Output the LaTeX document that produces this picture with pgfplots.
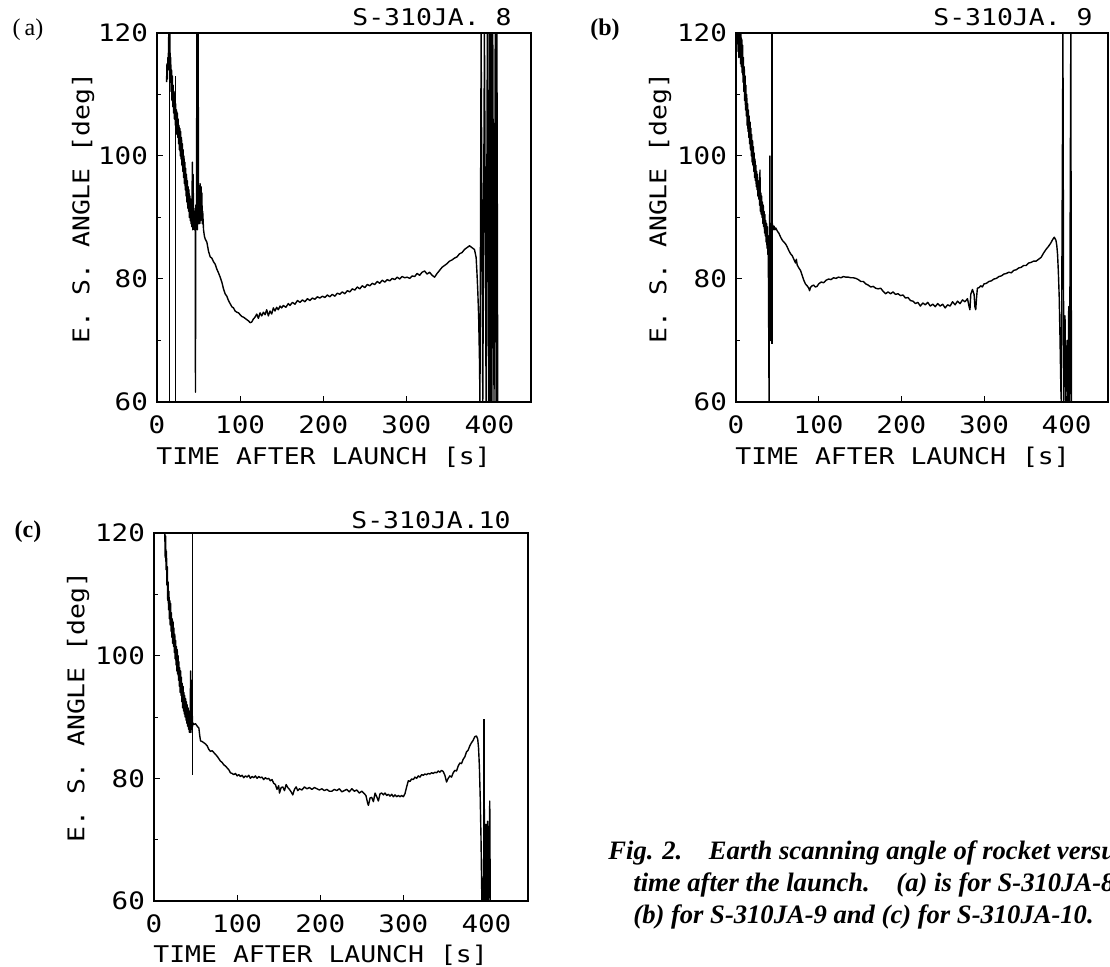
\documentclass[border=0pt]{standalone}
\usepackage{pgfplots}
\pgfplotsset{compat=1.18}
\usepackage{fontspec}
\setmainfont{Liberation Serif}
\newfontfamily\plotfont[FakeStretch=1.15]{DejaVu Sans Mono}

\pgfplotsset{
  rocket/.style={
    scale only axis,
    width=187pt, height=184.5pt,
    xmin=0, xmax=450, ymin=60, ymax=120,
    xtick={0,100,200,300,400},
    ytick={60,80,100,120},
    minor ytick={70,90,110},
    tick align=inside, tick pos=left,
    major tick length=3pt, minor tick length=2pt,
    tick style={black, line width=0.5pt},
    axis line style={line width=0.6pt},
    ticklabel style={font=\plotfont\fontsize{12}{12}\selectfont},
    /pgf/number format/assume math mode=true,
    yticklabel style={xshift=-1pt},
    xticklabel style={yshift=-3.5pt},
  },
  trace/.style={black, line width=0.7pt, line join=round, mark=none},
}
\tikzset{lbl/.style={font=\plotfont\fontsize{11.5}{11.5}\selectfont, inner sep=0pt}}

\begin{document}
\begin{tikzpicture}
\useasboundingbox (0,0) rectangle (555pt,-483.5pt);

% ---------------- (a) S-310JA-8
\begin{axis}[rocket, at={(78.5pt,-201pt)}, anchor=south west]
\addplot[trace] coordinates {(14.7,60) (14.7,120)};
\addplot[trace] coordinates {(22.6,113) (22.6,60)};
\addplot[trace] coordinates {
(11.5,112)(12,115)(12.5,112.5)(13,116)(13.5,114)(14,119)(14.5,121)(15,117)(15.5,120)(16,112)
(16.5,116)(17,110.5)(17.5,114)(18,109)(18.5,113)(19,108)(19.5,111.5)(20,107)(20.5,110.5)
(21,106)(21.5,109.5)(22,105)(22.5,108.5)(23,104)(23.5,107.5)(24,103.5)(24.5,107)(25,103)
(25.5,106)(26,102)(26.5,105)(27,101)(27.5,104.5)(28,100)(28.5,104)(29,99.5)(29.5,103)
(30,98.5)(30.5,102)(31,97.5)(31.5,101)(32,96.5)(32.5,100)(33,95.5)(33.5,99)(34,94.5)
(34.5,98)(35,93.5)(35.5,97)(36,92.5)(36.5,96)(37,91.5)(37.5,95)(38,91)(38.5,94.5)(39,90)
(39.5,93.5)(40,89.5)(40.5,93)(41,89)(41.5,92.5)(42,88.5)(42.5,99)(43,88)(43.5,97)(44,88.5)
(44.5,91.5)(45,88)(45.5,91)(46,89)(46.3,61.6)(46.6,92)(47.5,90)(48,120)(48.5,88)(49.5,120)
(50,89)(51,93)(51.5,89)(52,95.5)(52.5,89.5)(53,95)(53.5,90)(54,94)(54.5,89)(55,91)(56,88)
(57,87)(58,86.5)(60,86)(62,84.5)(64,83.6)(66,83.4)(68,82.8)(70,82.4)(72,81.6)(74,81)(76,80.3)
(78,79.5)(80,78.4)(82,77.6)(84,77.2)(86,76.5)(88,76)(90,75.5)(92,75.3)(94,74.8)(96,74.6)
(98,74.5)(100,74.2)(102,73.9)(104,73.8)(106,73.6)(108,73.4)(110,73.2)(112,72.9)(114,73.0)
(116,73.5)(118,73.8)(120,74.3)(122,73.6)(124,74.5)(126,74.0)(128,74.6)(130,74.2)(132,75.0)
(134,74.0)(136,74.8)(138,74.3)(140,75.3)(142,74.8)(144,75.4)(146,75.0)(148,75.6)(150,75.3)
(152,75.7)(155,75.4)(158,76.0)(160,75.7)(163,76.2)(166,75.9)(169,76.5)(172,76.2)(175,76.6)
(178,76.3)(181,76.8)(184,76.5)(187,76.9)(190,76.7)(193,77.1)(196,76.9)(199,77.2)(202,77.0)
(205,77.4)(208,77.1)(211,77.5)(214,77.2)(217,77.7)(220,77.5)(223,77.9)(226,77.6)(229,78.1)
(232,77.9)(235,78.4)(238,78.2)(241,78.7)(244,78.4)(247,78.9)(250,78.6)(253,79.1)(256,78.9)
(259,79.3)(262,79.1)(265,79.6)(268,79.3)(271,79.8)(274,79.5)(277,79.9)(280,79.7)(283,80.1)
(286,79.9)(289,80.3)(292,80.0)(295,80.4)(298,80.2)(301,80.3)(304,80.1)(307,80.5)(310,80.4)
(313,80.9)(316,80.6)(319,81.1)(322,81.3)(325,80.8)(328,81.1)(331,80.6)(334,80.3)(337,80.9)
(340,81.4)(343,81.9)(346,82.2)(349,82.5)(352,82.9)(355,83.1)(358,83.4)(361,83.6)(364,84.1)
(367,84.3)(370,84.8)(373,85.1)(376,85.4)(378,85.2)(380,85.0)(382,84.8)(384,83.5)(385,81)
(386,78)(387,74)(388,67)(388.6,60)(390,120)(392,60)(394,120)(396,60)(397.5,120)(399,60)
(400,120)(401,60)(402,120)(403,60)(404,120)(405.5,60)(407,120)(408,60)(409,120)(410,60)
};
\end{axis}
\node at (14pt,-15pt) {\fontsize{12}{12}\selectfont (\,a)};
\node[lbl, anchor=east] at (256pt,-8.5pt) {S-310JA. 8};
\node[lbl, rotate=90] at (41.5pt,-104pt) {E. S. ANGLE [deg]};
\node[lbl, anchor=west] at (78pt,-228.5pt) {TIME AFTER LAUNCH [s]};

% ---------------- (b) S-310JA-9
\begin{axis}[rocket, width=186pt, at={(368pt,-201pt)}, anchor=south west]
\addplot[trace] coordinates {(43.5,120) (43.5,69.5)};
\addplot[trace] coordinates {
(2,121)(2.5,117)(3,120.5)(3.5,116)(4,121)(4.5,116.5)(5,120)(5.5,115)(6,120.5)(6.5,114.5)
(7,119)(7.5,113.5)(8,118)(8.5,112)(9,116)(9.5,110.5)(10,114.5)(10.5,109)(11,113)(11.5,107.5)
(12,111.5)(12.5,106.5)(13,110)(13.5,105)(14,108.5)(14.5,104)(15,107.5)(15.5,103)(16,106.5)
(16.5,102)(17,105.5)(17.5,101)(18,104.5)(18.5,100)(19,103.5)(19.5,99)(20,102.5)(20.5,98.5)
(21,101.5)(21.5,97.5)(22,100.5)(22.5,96.5)(23,99.5)(23.5,96)(24,98.5)(24.5,95)(25,97.5)
(25.5,94.5)(26,97)(26.5,93.5)(27,96)(27.5,93)(28,95.5)(28.5,92)(29,97.7)(29.5,91)(30,94)
(30.5,90.5)(31,93.5)(31.5,90)(32,92.5)(32.5,89)(33,92)(33.5,88.5)(34,91)(34.5,87.5)(35,90.5)
(35.5,87)(36,89.5)(36.5,86)(37,89)(37.5,85)(38,88.5)(38.5,84)(39,87)(40,60)(41,100)(41.5,70)
(42,89)(44,89)(45,88)(46,88.6)(47,88)
(48,88.3)(50,87.8)(52,87.4)(54,86.8)(56,86.3)(58,86.0)(60,85.7)(62,85.2)(64,84.6)(66,84.1)
(68,83.8)(70,83.2)(72,82.6)(73,83.2)(74,82.3)(76,81.8)(78,81.4)(80,80.6)(82,79.8)(84,79.2)
(86,78.9)(88,78.5)(89,78.1)(90,78.6)(92,78.9)(94,79.0)(96,78.7)(98,78.8)(100,79.2)(103,79.5)
(106,79.4)(109,79.8)(112,80.0)(115,79.9)(118,80.2)(121,80.1)(124,80.3)(127,80.2)(130,80.4)
(133,80.3)(136,80.3)(139,80.2)(142,80.2)(145,80.1)(148,79.9)(151,79.6)(154,79.6)(157,79.2)
(160,79.0)(163,78.7)(166,78.8)(169,78.5)(172,78.4)(175,78.5)(178,78.0)(181,77.6)(184,77.9)
(187,77.6)(190,77.9)(193,77.5)(196,77.6)(199,77.3)(202,77.4)(205,76.9)(208,77.0)(211,76.5)
(214,76.4)(217,76.0)(220,76.2)(223,75.6)(226,76.1)(229,75.8)(232,76.2)(235,75.6)(238,75.9)
(241,75.5)(244,76.0)(247,75.6)(250,75.9)(253,75.3)(256,75.8)(259,75.6)(262,76.3)(265,75.8)
(268,76.4)(271,76.0)(274,76.6)(277,76.3)(280,76.8)(282,75.5)(283,75.0)(284,77.5)(286,78.3)
(288,77.5)(289,75.5)(290,75.0)(291,77.0)(292,78.5)(294,78.6)(296,78.9)(298,78.7)(300,79.2)
(303,79.3)(306,79.6)(309,79.7)(312,80.0)(315,80.1)(318,80.4)(321,80.5)(324,80.8)(327,80.9)
(330,81.1)(333,81.0)(336,81.4)(339,81.5)(342,81.8)(345,81.9)(348,82.2)(351,82.2)(354,82.6)
(357,82.7)(360,82.9)(363,82.9)(366,83.2)(369,83.5)(372,84.2)(375,84.8)(378,85.3)(381,85.9)
(383,86.4)(385,86.8)(387,86.3)(388,85.5)(389,84)(390,81)(391,77)(392,70)(393,62)(393.5,60)
(395.5,120)(396.5,60)(398,74)(399,60)(400.5,70)(401.5,60)(402.5,75.5)(403.5,60)(405,120)
(405.8,60)
};
\end{axis}
\node at (302.5pt,-15pt) {\fontsize{12}{12}\selectfont\bfseries (b)};
\node[lbl, anchor=east] at (546.5pt,-8.5pt) {S-310JA. 9};
\node[lbl, rotate=90] at (330pt,-104pt) {E. S. ANGLE [deg]};
\node[lbl, anchor=west] at (367.5pt,-228.5pt) {TIME AFTER LAUNCH [s]};

% ---------------- (c) S-310JA-10
\begin{axis}[rocket, height=184pt, at={(77pt,-450.5pt)}, anchor=south west]
\addplot[trace] coordinates {(46,120) (46,80.5)};
\addplot[trace] coordinates {(397,60) (397,89.6)};
\addplot[trace] coordinates {
(13,120)(13.5,116)(14,119.5)(14.5,114)(15,117)(15.5,111.5)(16,114.5)(16.5,109)(17,112)
(17.5,107.5)(18,110.5)(18.5,106)(19,109)(19.5,105)(20,108.5)(20.5,104)(21,107)(21.5,103)
(22,106)(22.5,102)(23,105.5)(23.5,101.5)(24,104.5)(24.5,100.5)(25,103.5)(25.5,99.5)(26,102.5)
(26.5,98.5)(27,101.5)(27.5,97.5)(28,101)(28.5,97)(29,100)(29.5,96)(30,99)(30.5,95)(31,98)
(31.5,94)(32,97.5)(32.5,93.5)(33,96.5)(33.5,92.5)(34,95.5)(34.5,91.5)(35,95)(35.5,91)(36,94)
(36.5,90.5)(37,93.5)(37.5,90)(38,93)(38.5,89.5)(39,92.5)(39.5,89)(40,92)(40.5,88.5)(41,91.5)
(41.5,88)(42,91)(42.5,87.5)(43,90.5)(43.5,87.5)(44,97.5)(44.5,87.5)(45,96)(45.5,88)(46,90.5)
(46.5,88.5)(47,89)(48,88.8)(50,88.9)(52,88.5)(54,88.2)(55,87)(56,86.1)(58,86.0)(60,85.8)
(62,85.6)(64,85.3)(66,84.7)(68,84.4)(70,84.5)(72,84.2)(74,83.9)(76,83.6)(78,83.2)(80,82.8)
(82,82.6)(84,82.2)(86,82.0)(88,81.7)(90,81.4)(92,80.9)(94,80.8)(96,80.6)(98,80.8)(100,80.4)
(102,80.6)(104,80.3)(106,80.5)(108,80.1)(110,80.4)(112,80.2)(114,80.5)(116,80.0)(118,80.3)
(120,80.1)(122,80.4)(124,80.0)(126,80.3)(128,80.1)(130,80.2)(132,79.8)(134,80.1)(136,79.9)
(138,80.0)(140,79.6)(142,79.8)(144,79.2)(146,79.0)(148,78.2)(150,78.8)(151,77.6)(153,78.5)
(155,78.6)(157,78.0)(159,79.0)(161,78.5)(163,78.2)(165,77.8)(167,77.3)(169,78.2)(171,78.6)
(173,78.0)(175,78.3)(178,78.1)(181,78.6)(184,78.3)(187,78.5)(190,78.2)(193,78.5)(196,78.3)
(199,78.1)(202,78.3)(205,78.0)(208,78.2)(211,77.9)(214,77.9)(217,78.2)(220,78.0)(223,78.3)
(226,77.8)(229,78.0)(232,78.2)(235,77.8)(238,78.3)(241,77.9)(244,78.1)(247,77.6)(250,77.9)
(253,77.5)(255,77.2)(257,76.0)(258,75.6)(260,76.8)(262,76.9)(264,76.2)(266,77.6)(268,77.0)
(270,76.3)(272,77.5)(274,77.6)(276,77.3)(278,77.6)(280,77.2)(282,77.4)(284,77.1)(286,77.4)
(288,77.0)(290,77.3)(292,77.0)(294,77.2)(296,77.0)(298,77.2)(300,77.0)(302,77.5)(304,78.6)
(306,79.6)(308,79.5)(310,79.9)(312,79.8)(314,80.2)(316,80.0)(318,80.4)(320,80.2)(322,80.6)
(324,80.5)(326,80.7)(328,80.6)(330,80.8)(332,80.7)(334,80.9)(336,80.8)(338,81.0)(340,80.9)
(342,81.2)(344,81.0)(346,81.3)(348,81.1)(350,80.5)(352,79.4)(354,80.0)(356,80.4)(358,80.2)
(360,80.9)(362,81.3)(364,81.2)(366,82.0)(368,82.5)(370,82.4)(372,83.1)(374,83.5)(376,84.3)
(378,84.6)(380,85.3)(382,85.8)(384,86.2)(386,86.8)(388,86.9)(389.5,86.4)(390.5,85)(391.5,82)
(392.5,77)(393.5,70)(394.5,60)(396,60)(397.5,75)(398.5,60)(399.5,72.5)(400.5,60)(401.5,73)
(402.5,60)(404,76.3)(404.6,60)
};
\end{axis}
\node at (14pt,-266pt) {\fontsize{12}{12}\selectfont\bfseries (c)};
\node[lbl, anchor=east] at (255.5pt,-260pt) {S-310JA.10};
\node[lbl, rotate=90] at (39pt,-353.5pt) {E. S. ANGLE [deg]};
\node[lbl, anchor=west] at (76.5pt,-477.5pt) {TIME AFTER LAUNCH [s]};

% ---------------- caption
\begin{scope}[every node/.style={anchor=base west, inner sep=0pt,
    font=\fontsize{13.3}{13.3}\selectfont\bfseries\itshape}]
\node at (304pt,-430pt) {Fig. 2.\quad Earth scanning angle of rocket versus};
\node at (316.5pt,-446pt) {time after the launch.\quad (a) is for S-310JA-8,};
\node at (316.5pt,-462pt) {(b) for S-310JA-9 and (c) for S-310JA-10.};
\end{scope}
\end{tikzpicture}
\end{document}
